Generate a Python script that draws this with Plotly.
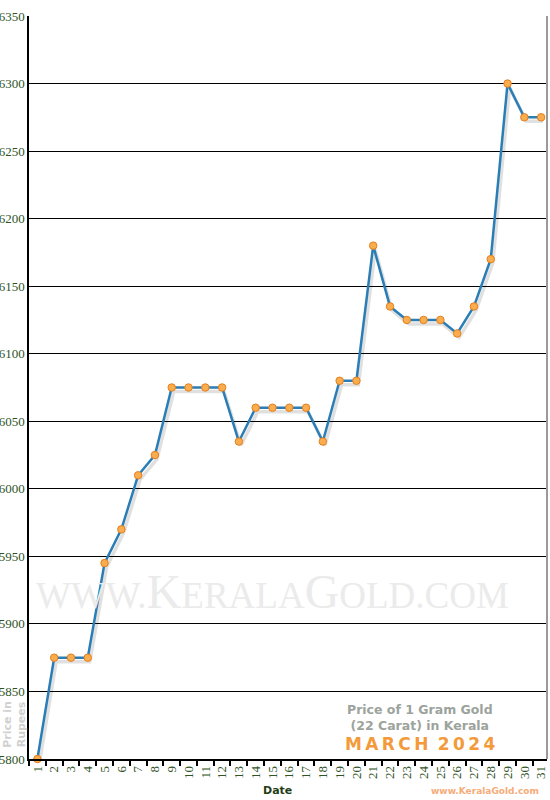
import plotly.graph_objects as go

days = list(range(1, 32))
day_labels = [str(d) for d in days]
prices = [5800, 5875, 5875, 5875, 5945, 5970, 6010, 6025, 6075, 6075,
          6075, 6075, 6035, 6060, 6060, 6060, 6060, 6035, 6080, 6080,
          6180, 6135, 6125, 6125, 6125, 6115, 6135, 6170, 6300, 6275, 6275]
y_ticks = list(range(5800, 6351, 50))

green = "#2f5426"
serif = "Liberation Serif"
sans = "DejaVu Sans"

fig = go.Figure()

# soft drop shadow under the line
fig.add_trace(go.Scatter(
    x=[d + 0.12 for d in days], y=[p - 3 for p in prices],
    mode="lines", line=dict(color="rgba(0,0,0,0.12)", width=3.5),
    hoverinfo="skip", showlegend=False))

fig.add_trace(go.Scatter(
    x=days, y=prices, mode="lines+markers",
    line=dict(color="#2a7db5", width=2.5),
    marker=dict(size=7.5, color="#f9ad4f", line=dict(color="#e57f1c", width=1)),
    cliponaxis=False, showlegend=False))

fig.update_layout(
    width=550, height=800,
    margin=dict(l=29, r=3, t=16, b=41),
    plot_bgcolor="white", paper_bgcolor="white",
    xaxis=dict(
        range=[0.5, 31.35], tickvals=days, ticktext=day_labels,
        tickangle=-90, ticks="", showgrid=False, zeroline=False,
        showline=True, linecolor="black", linewidth=1.5, automargin=False,
        tickfont=dict(family=serif, size=13, color=green),
        minor=dict(tick0=1.5, dtick=1, ticks="outside", ticklen=5,
                   tickcolor="black", tickwidth=1.5, showgrid=False),
    ),
    yaxis=dict(
        range=[5800, 6350], tickvals=y_ticks, ticks="",
        showgrid=True, gridcolor="black", gridwidth=1.2, zeroline=False,
        showline=True, linecolor="black", linewidth=1.5, automargin=False,
        tickfont=dict(family=serif, size=13, color=green),
    ),
)

fig.add_shape(type="line", xref="paper", yref="paper", x0=1, x1=1, y0=0, y1=1,
              line=dict(color="#9a9a9a", width=2))

small = "<span style='font-size:37px'>"
fig.add_annotation(
    xref="paper", yref="paper", x=0.471, y=0.225, xanchor="center", yanchor="middle",
    showarrow=False,
    text=small + "WWW.</span>K" + small + "ERALA</span>G" + small + "OLD.COM</span>",
    font=dict(family=serif, size=48, color="#ebebeb"))

fig.add_annotation(
    xref="paper", yref="paper", x=0.755, y=0.0565, xanchor="center", yanchor="middle",
    showarrow=False, align="center",
    text="<b>Price of 1 Gram Gold<br>(22 Carat) in Kerala</b>",
    font=dict(family=sans, size=12.5, color="#9ca39c"))
thin = "&#8201;"
month = thin.join("MARCH") + " " + thin + thin.join("2024")
fig.add_annotation(
    xref="paper", yref="paper", x=0.755, y=0.0205, xanchor="center", yanchor="middle",
    showarrow=False, text="<b>" + month + "</b>",
    font=dict(family=sans, size=17, color="#f39a3a"))

fig.add_annotation(
    xref="paper", yref="paper", x=-0.027, y=0.046, xanchor="center", yanchor="middle",
    showarrow=False, textangle=-90, text="<b>Price in<br>Rupees</b>",
    font=dict(family=sans, size=11, color="#d0d0d0"))

fig.add_annotation(
    xref="paper", yref="paper", x=0.48, y=-0.043, xanchor="center", yanchor="middle",
    showarrow=False, text="<b>Date</b>", font=dict(family=sans, size=11, color="#1f3d17"))
fig.add_annotation(
    xref="paper", yref="paper", x=0.88, y=-0.043, xanchor="center", yanchor="middle",
    showarrow=False, text="<b>www.KeralaGold.com</b>",
    font=dict(family=sans, size=9, color="#f6ab78"))

# drop the default page margin so the 550x800 figure fills the window
fig.write_html("out.html", config={"displayModeBar": False},
               post_script="document.body.style.margin = '0';")
